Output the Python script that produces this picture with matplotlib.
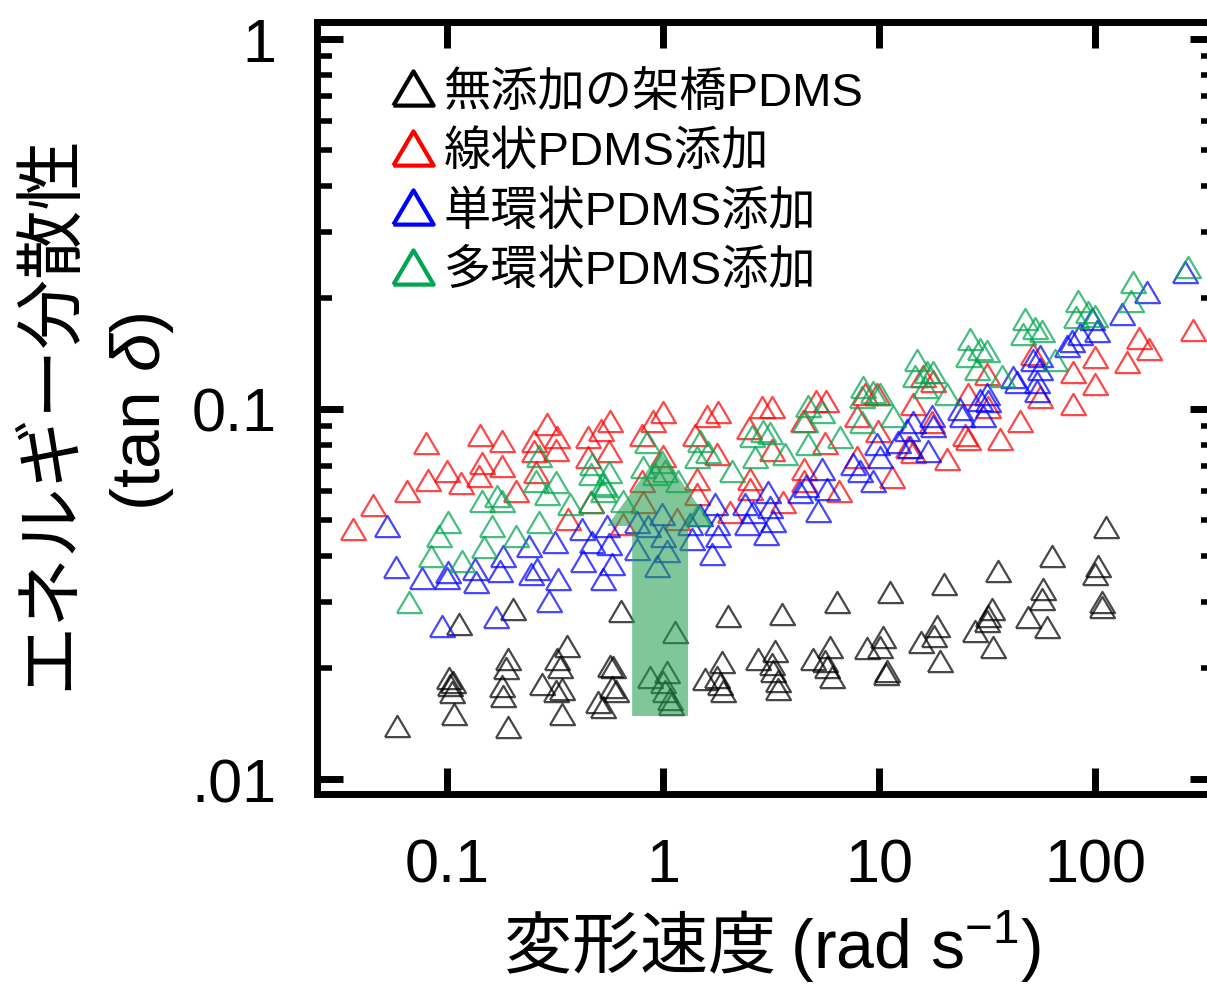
import matplotlib
matplotlib.use('Agg')
import matplotlib.pyplot as plt
from matplotlib.lines import Line2D
from matplotlib.patches import Polygon
from matplotlib.ticker import LogLocator, NullFormatter, NullLocator

plt.rcParams['font.family'] = ['Liberation Sans', 'Noto Sans CJK JP', 'DejaVu Sans']
plt.rcParams['mathtext.fontset'] = 'custom'
plt.rcParams['mathtext.rm'] = 'Liberation Sans'
plt.rcParams['mathtext.it'] = 'Liberation Sans:italic'

# --- data ---
# crosslinked PDMS without additive (black)
black_x = [0.0587, 0.102, 0.107, 0.103, 0.105, 0.108, 0.114,
           0.192, 0.188, 0.180, 0.182, 0.192, 0.202,
           0.360, 0.323, 0.334, 0.275, 0.320, 0.341, 0.341,
           0.587, 0.568, 0.581, 0.606, 0.500, 0.639, 0.528,
           1.14, 0.871, 1.04, 1.00, 1.02, 1.08, 1.09,
           2.00, 1.88, 1.56, 1.78, 1.84, 1.90,
           3.56, 3.30, 2.75, 3.20, 3.23, 3.41, 3.41,
           6.39, 5.93, 4.95, 5.62, 5.74, 6.06,
           11.2, 10.4, 8.8, 10.1, 10.9, 10.8,
           20.0, 18.6, 15.6, 18.0, 19.2,
           35.6, 33.3, 32.0, 31.6, 27.8, 33.6,
           63.2, 57.5, 56.8, 49.0, 59.9,
           112, 103, 100, 108, 108]
black_y = [0.0139, 0.0187, 0.0183, 0.0180, 0.0172, 0.0150, 0.0262,
           0.0211, 0.0200, 0.0178, 0.0168, 0.0138, 0.0288,
           0.0229, 0.0211, 0.0201, 0.0181, 0.0173, 0.0175, 0.0150,
           0.0201, 0.0202, 0.0177, 0.0173, 0.0162, 0.0284, 0.0157,
           0.0250, 0.0189, 0.0195, 0.0183, 0.0173, 0.0165, 0.0160,
           0.0276, 0.0207, 0.0186, 0.0189, 0.0181, 0.0173,
           0.0279, 0.0222, 0.0211, 0.0205, 0.0196, 0.0184, 0.0175,
           0.0301, 0.0227, 0.0211, 0.0208, 0.0201, 0.0189,
           0.0320, 0.0242, 0.0226, 0.0227, 0.0196, 0.0192,
           0.0337, 0.0259, 0.0234, 0.0243, 0.0208,
           0.0365, 0.0288, 0.0276, 0.0267, 0.0251, 0.0227,
           0.0401, 0.0326, 0.0306, 0.0274, 0.0257,
           0.0480, 0.0376, 0.0358, 0.0301, 0.0292]

# linear PDMS added (red)
red_x = [0.0367, 0.0454, 0.0653, 0.080, 0.0817, 0.100, 0.116, 0.142, 0.145, 0.141,
         0.180, 0.180, 0.209, 0.253, 0.253, 0.258, 0.290, 0.323, 0.320, 0.363,
         0.450, 0.450, 0.464, 0.516, 0.568, 0.562, 0.653, 0.899, 1.00, 0.80,
         1.00, 0.80, 0.808, 1.16, 1.60, 1.80, 1.41, 1.78, 1.44, 1.44,
         2.04, 2.53, 2.53, 2.87, 3.20, 2.50, 3.20, 3.59, 4.50, 4.50,
         5.11, 5.68, 4.45, 5.62, 6.53, 7.91, 9.90, 7.91, 11.5, 8.61,
         9.80, 16.0, 17.8, 14.4, 17.6, 13.6, 14.4, 20.6, 31.6, 25.8,
         32.0, 25.0, 25.8, 36.3, 45.0, 51.6, 55.6, 79.1, 100, 100,
         79.1, 141, 160, 178, 284]
red_y = [0.0474, 0.055, 0.060, 0.081, 0.0643, 0.068, 0.0631, 0.085, 0.0714, 0.0659,
         0.082, 0.070, 0.060, 0.082, 0.077, 0.0676, 0.091, 0.084, 0.0775, 0.0504,
         0.084, 0.0742, 0.0561, 0.088, 0.093, 0.077, 0.0489, 0.093, 0.098, 0.085,
         0.0746, 0.0639, 0.0561, 0.0504, 0.096, 0.098, 0.085, 0.0756, 0.0647, 0.0589,
         0.0527, 0.0647, 0.0608, 0.101, 0.101, 0.089, 0.0775, 0.0561, 0.0688, 0.0639,
         0.105, 0.105, 0.093, 0.081, 0.060, 0.096, 0.087, 0.0742, 0.0655, 0.110,
         0.110, 0.123, 0.119, 0.103, 0.092, 0.079, 0.0765, 0.0732, 0.124, 0.110,
         0.101, 0.085, 0.083, 0.083, 0.093, 0.141, 0.108, 0.126, 0.138, 0.117,
         0.103, 0.134, 0.156, 0.145, 0.163]

# single-ring cyclic PDMS added (blue)
blue_x = [0.0527, 0.058, 0.0766, 0.101, 0.100, 0.135, 0.136, 0.182, 0.176, 0.240,
          0.245, 0.261, 0.316, 0.327, 0.297, 0.422, 0.469, 0.562, 0.551, 0.426,
          0.581, 0.528, 0.0948, 0.169,
          0.758, 0.852, 0.989, 1.00, 0.758, 1.04, 0.938, 1.33, 1.48, 1.36,
          1.69, 1.74, 1.78, 1.80, 2.40, 2.45, 2.61, 3.06, 3.13, 3.23,
          2.99, 4.31, 4.59, 5.22, 5.45, 5.74, 7.58, 8.17, 9.80, 10.1,
          9.38, 12.2,
          13.5, 14.4, 13.9, 16.9, 17.6, 17.8, 23.7, 24.2, 29.4, 31.6,
          32.0, 30.2, 41.7, 43.5, 51.6, 55.6, 55.6, 53.9, 53.9, 74.2,
          78.3, 85.3, 96.8, 102, 133, 174, 261]
blue_y = [0.0483, 0.0374, 0.0349, 0.0363, 0.0349, 0.0370, 0.0341, 0.0401, 0.0365, 0.0426,
          0.0358, 0.0370, 0.0437, 0.0347, 0.0303, 0.0474, 0.0437, 0.0432, 0.0483, 0.0388,
          0.0381, 0.0347, 0.0259, 0.0274,
          0.0495, 0.0483, 0.052, 0.0454, 0.0418, 0.0413, 0.0376, 0.0489, 0.0517, 0.0445,
          0.0406, 0.0554, 0.0489, 0.0454, 0.0554, 0.0489, 0.0527, 0.0597, 0.0543, 0.0498,
          0.0459, 0.0597, 0.0619, 0.0530, 0.0688, 0.0608, 0.0710, 0.068, 0.0804, 0.0742,
          0.0639, 0.0814,
          0.088, 0.092, 0.079, 0.077, 0.096, 0.090, 0.100, 0.096, 0.106, 0.110,
          0.105, 0.096, 0.122, 0.118, 0.136, 0.139, 0.128, 0.118, 0.112, 0.148,
          0.153, 0.159, 0.175, 0.162, 0.181, 0.207, 0.235]

# multi-ring cyclic PDMS added (green)
green_x = [0.0667, 0.101, 0.0918, 0.0843, 0.117, 0.162, 0.148, 0.145, 0.170, 0.180,
           0.209, 0.267, 0.267, 0.258, 0.290, 0.320, 0.371, 0.469, 0.464, 0.562,
           0.528, 0.528, 0.464, 0.653, 0.539, 0.808, 0.843, 0.989, 0.918, 1.02,
           1.17, 1.45, 1.44, 1.48, 1.62, 2.09, 2.67, 2.58, 2.90, 3.13,
           3.67, 4.69, 4.55, 4.69, 5.45, 6.60, 8.43, 8.34, 8.34, 9.38,
           10.1, 11.6, 15.0, 14.7, 16.7, 17.8, 16.3, 20.6, 26.4, 25.8,
           29.4, 31.6, 37.1, 28.4, 47.4, 46.4, 52.7, 56.9, 65.3, 83.4,
           81.6, 92.8, 100, 150, 147, 270]
green_y = [0.0301, 0.0495, 0.0454, 0.0401, 0.0388, 0.0483, 0.0424, 0.0564, 0.0582, 0.0564,
           0.0454, 0.0495, 0.0746, 0.0639, 0.0589, 0.0635, 0.0554, 0.071, 0.0668, 0.0676,
           0.0627, 0.060, 0.0561, 0.0564, 0.0619, 0.0697, 0.0814, 0.0719, 0.0668, 0.068,
           0.0639, 0.0517, 0.0742, 0.082, 0.0765, 0.068, 0.0742, 0.0845, 0.087, 0.086,
           0.0756, 0.102, 0.093, 0.0804, 0.098, 0.084, 0.115, 0.108, 0.092, 0.111,
           0.110, 0.096, 0.136, 0.123, 0.126, 0.126, 0.115, 0.110, 0.155, 0.139,
           0.145, 0.1435, 0.123, 0.128, 0.175, 0.159, 0.165, 0.162, 0.136, 0.196,
           0.177, 0.183, 0.178, 0.220, 0.196, 0.242]

labels = ['無添加の架橋PDMS', '線状PDMS添加', '単環状PDMS添加', '多環状PDMS添加']
colors = ['#000000', '#ff0000', '#0000ff', '#00a650']

# big green arrow (x centre, tail, head base, tip, half widths as x factors)
arrow_x = 0.973
arrow_tail = 0.0148
arrow_head_base = 0.0483
arrow_tip = 0.0765
body_lo, body_hi = 0.719, 1.305
head_lo, head_hi = 0.551, 1.70

tri = [(-1, -0.85), (1, -0.85), (0, 0.85), (-1, -0.85)]

fig = plt.figure(figsize=(12.07, 9.87), dpi=100)
ax = fig.add_axes([0.2626, 0.1945, 0.745, 0.7822])

series = [(black_x, black_y), (red_x, red_y), (blue_x, blue_y), (green_x, green_y)]
for (xs, ys), c in zip(series, colors):
    ax.plot(xs, ys, ls='none', marker=tri, markersize=18, mfc='none',
            mec=c, mew=1.6, alpha=0.72, zorder=3)

arrow = Polygon([(body_lo, arrow_tail), (body_hi, arrow_tail), (body_hi, arrow_head_base),
                 (head_hi, arrow_head_base), (arrow_x, arrow_tip), (head_lo, arrow_head_base),
                 (body_lo, arrow_head_base)], closed=True, facecolor='#22a050',
                edgecolor='none', alpha=0.58, zorder=5)
ax.add_patch(arrow)

ax.set_xscale('log')
ax.set_yscale('log')
ax.set_xlim(0.025, 363)
ax.set_ylim(0.00911, 1.111)

ax.set_xticks([0.1, 1, 10, 100])
ax.set_xticklabels(['0.1', '1', '10', '100'])
ax.xaxis.set_minor_locator(NullLocator())
ax.set_yticks([0.01, 0.1, 1])
ax.set_yticklabels(['.01', '0.1', '1'])
ax.yaxis.set_minor_locator(LogLocator(base=10, subs=range(2, 10)))
ax.yaxis.set_minor_formatter(NullFormatter())

for sp in ax.spines.values():
    sp.set_linewidth(5)
ax.tick_params(which='both', direction='in', top=True, right=True)
ax.tick_params(which='major', length=19, width=5, labelsize=44)
ax.tick_params(which='minor', length=11, width=4)
ax.tick_params(axis='y', pad=29)
ax.tick_params(axis='x', pad=31)

handles = [Line2D([], [], ls='none', marker=tri, markersize=29, mfc='none',
                  mec=c, mew=3) for c in colors]
ax.legend(handles, labels, loc='upper left', bbox_to_anchor=(0.0756, 0.937),
          frameon=False, fontsize=34, handlelength=1.2, handletextpad=0.05,
          borderpad=0, borderaxespad=0, labelspacing=0.33)

fig.text(0.0414, 0.5826, 'エネルギー分散性', rotation=90, fontsize=50,
         ha='center', va='center')
fig.text(0.1176, 0.5826, '(tan $\\delta$)', rotation=90, fontsize=50,
         ha='center', va='center')
fig.text(0.6396, 0.041, '変形速度 $\\mathrm{(rad\\ s^{-1})}$', fontsize=49,
         ha='center', va='center', family='Noto Sans CJK JP')

fig.savefig('out.png', dpi=100)
